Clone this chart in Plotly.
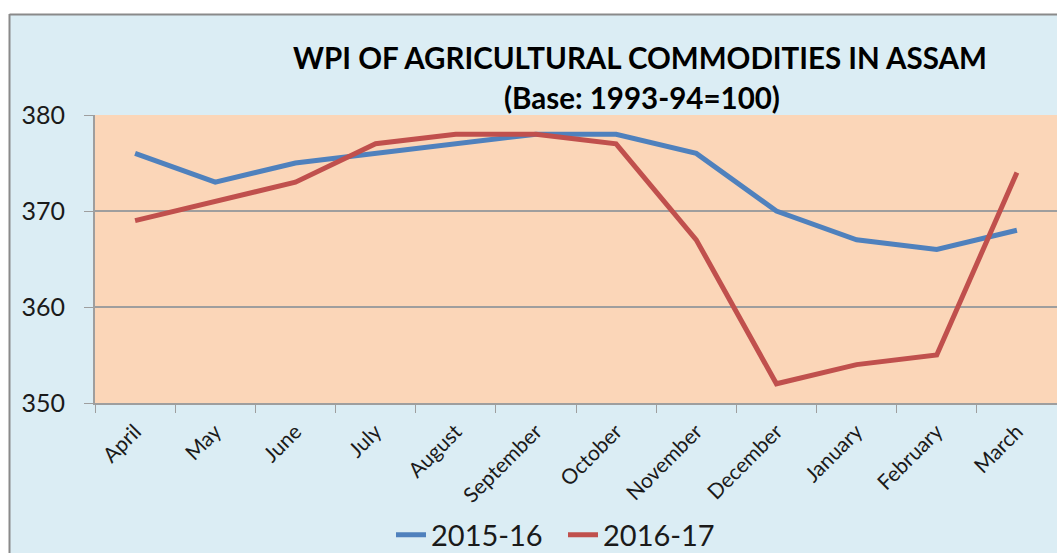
import plotly.graph_objects as go

months = ["April", "May", "June", "July", "August", "September", "October",
          "November", "December", "January", "February", "March"]
wpi_2015_16 = [376, 373, 375, 376, 377, 378, 378, 376, 370, 367, 366, 368]
wpi_2016_17 = [369, 371, 373, 377, 378, 378, 377, 367, 352, 354, 355, 374]
series_names = ["2015-16", "2016-17"]
y_ticks = [350, 360, 370, 380]

FONT = "Lato"
W, H = 1057, 553
L, R, T, B = 95, 0, 115, 150
pw, ph = W - L - R, H - T - B

def px_x(x):
    return (x - L) / pw

def px_y(y):
    return (H - B - y) / ph

fig = go.Figure()
fig.add_trace(go.Scatter(x=months, y=wpi_2015_16, mode="lines", name=series_names[0],
                         line=dict(color="#4F81BD", width=5)))
fig.add_trace(go.Scatter(x=months, y=wpi_2016_17, mode="lines", name=series_names[1],
                         line=dict(color="#C0504D", width=5)))

fig.update_layout(
    width=W, height=H,
    margin=dict(l=L, r=R, t=T, b=B, autoexpand=False),
    paper_bgcolor="#DBEDF4",
    plot_bgcolor="#FBD6B8",
    font=dict(family=FONT, color="#1a1a1a"),
    showlegend=True,
    legend=dict(orientation="h", x=px_x(391), xanchor="left", y=px_y(535), yanchor="middle",
                font=dict(size=29, color="#1a1a1a"), bgcolor="rgba(0,0,0,0)",
                entrywidth=127, entrywidthmode="pixels", tracegroupgap=0),
    xaxis=dict(type="category", tickangle=-45, tickson="boundaries", automargin=False,
               showgrid=False, showline=True, linecolor="#9e9e9e", linewidth=2,
               ticks="outside", ticklen=8, tickcolor="#9e9e9e",
               tickfont=dict(size=21, family=FONT), range=[-0.5, 11.5], ticklabelstandoff=6),
    yaxis=dict(range=[350, 380], tickvals=y_ticks, showgrid=True, gridcolor="#9e9e9e",
               gridwidth=1.5, showline=True, linecolor="#9e9e9e", linewidth=2, automargin=False,
               ticks="outside", ticklen=9, tickcolor="#9e9e9e",
               tickfont=dict(size=25, family=FONT), zeroline=False, ticklabelstandoff=14),
    shapes=[
        dict(type="rect", xref="paper", yref="paper", x0=px_x(0), x1=px_x(9), y0=px_y(H), y1=px_y(0),
             fillcolor="white", line=dict(width=0), layer="below"),
        dict(type="rect", xref="paper", yref="paper", x0=px_x(0), x1=px_x(W), y0=px_y(14), y1=px_y(0),
             fillcolor="white", line=dict(width=0), layer="below"),
        dict(type="line", xref="paper", yref="paper", x0=px_x(9.5), x1=px_x(9.5), y0=px_y(14), y1=px_y(H),
             line=dict(color="#8a8a8a", width=2)),
        dict(type="line", xref="paper", yref="paper", x0=px_x(9.5), x1=px_x(W), y0=px_y(14.5), y1=px_y(14.5),
             line=dict(color="#8a8a8a", width=2)),
    ],
    annotations=[
        dict(text="<b>WPI OF AGRICULTURAL COMMODITIES IN ASSAM</b>", xref="paper", yref="paper",
             x=px_x(640), y=px_y(57), xanchor="center", yanchor="middle", showarrow=False,
             font=dict(size=29.5, family=FONT, color="#000")),
        dict(text="<b>(Base: 1993-94=100)</b>", xref="paper", yref="paper",
             x=px_x(642), y=px_y(97), xanchor="center", yanchor="middle", showarrow=False,
             font=dict(size=29.5, family=FONT, color="#000")),
    ],
)

fig.write_html("out.html", config={"displayModeBar": False},
               post_script="document.body.style.margin='0';document.body.style.overflow='hidden';")
